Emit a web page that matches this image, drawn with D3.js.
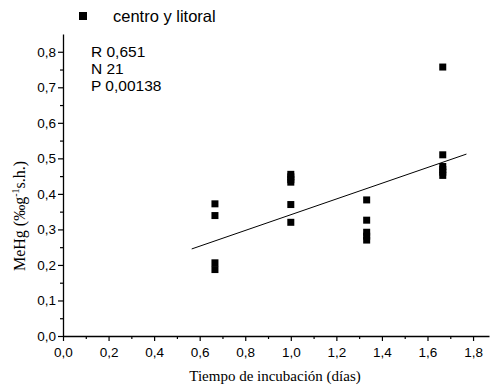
<!DOCTYPE html>
<html>
<head>
<meta charset="utf-8">
<script src="https://cdn.jsdelivr.net/npm/d3@7"></script>
<style>
  html, body { margin: 0; padding: 0; background: #fff; }
  svg { display: block; }
</style>
</head>
<body>
<svg id="chart" width="492" height="389"></svg>
<script>
// Incubation time (days) and MeHg measured for each sample
const days = [0.667, 0.667, 0.667, 0.667,
              1.0, 1.0, 1.0, 1.0, 1.0, 1.0,
              1.333, 1.333, 1.333, 1.333, 1.333,
              1.667, 1.667, 1.667, 1.667, 1.667, 1.667];
const mehg = [0.372, 0.339, 0.206, 0.187,
              0.455, 0.448, 0.440, 0.433, 0.370, 0.320,
              0.383, 0.326, 0.292, 0.281, 0.270,
              0.757, 0.510, 0.477, 0.469, 0.461, 0.452];

// Linear fit: start/end of the drawn line and its y values
const fitX = [0.565, 1.771];
const fitY = [0.245, 0.512];

const xTicks = [0, 0.2, 0.4, 0.6, 0.8, 1.0, 1.2, 1.4, 1.6, 1.8];
const yTicks = [0, 0.1, 0.2, 0.3, 0.4, 0.5, 0.6, 0.7, 0.8];
const stats = ["R 0,651", "N 21", "P 0,00138"];
const seriesName = "centro y litoral";

(function draw() {
  const svg = d3.select("#chart");
  const mLeft = 63, mRight = 489, mTop = 34, mBottom = 336;

  const x = d3.scaleLinear().domain([0, 1.87]).range([mLeft, mRight]);
  const y = d3.scaleLinear().domain([0, 0.85]).range([mBottom, mTop]);

  const fmt = d => d3.format(".1f")(d).replace(".", ",");
  const sans = "'Liberation Sans', Arial, sans-serif";
  const serif = "'Liberation Serif', 'Times New Roman', serif";

  // Minor ticks
  const xMinor = d3.range(0.1, 1.87, 0.2);
  const yMinor = d3.range(0.05, 0.85, 0.1);

  const xAxis = svg.append("g")
    .attr("transform", `translate(0,${mBottom})`)
    .call(d3.axisBottom(x).tickValues(xTicks).tickFormat(fmt).tickSize(5).tickSizeOuter(0));
  svg.append("g")
    .attr("transform", `translate(0,${mBottom})`)
    .call(d3.axisBottom(x).tickValues(xMinor).tickFormat("").tickSize(3).tickSizeOuter(0))
    .call(g => g.select(".domain").remove());

  const yAxis = svg.append("g")
    .attr("transform", `translate(${mLeft},0)`)
    .call(d3.axisLeft(y).tickValues(yTicks).tickFormat(fmt).tickSize(5).tickSizeOuter(0));
  svg.append("g")
    .attr("transform", `translate(${mLeft},0)`)
    .call(d3.axisLeft(y).tickValues(yMinor).tickFormat("").tickSize(3).tickSizeOuter(0))
    .call(g => g.select(".domain").remove());

  svg.selectAll(".domain").attr("stroke", "#000").attr("stroke-width", 1.3);
  svg.selectAll(".tick line").attr("stroke", "#000").attr("stroke-width", 1.2);
  svg.selectAll(".tick text")
    .attr("font-family", sans).attr("font-size", 13.5).attr("fill", "#000");
  xAxis.selectAll(".tick text").attr("dy", "0.95em");
  yAxis.selectAll(".tick text").attr("x", -7);

  // Fitted line
  svg.append("line")
    .attr("x1", x(fitX[0])).attr("y1", y(fitY[0]))
    .attr("x2", x(fitX[1])).attr("y2", y(fitY[1]))
    .attr("stroke", "#000").attr("stroke-width", 1);

  // Sample markers
  const sq = 7;
  svg.append("g").selectAll("rect")
    .data(days.map((d, i) => [d, mehg[i]]))
    .join("rect")
    .attr("x", d => x(d[0]) - sq / 2)
    .attr("y", d => y(d[1]) - sq / 2)
    .attr("width", sq).attr("height", sq)
    .attr("fill", "#000");

  // Legend
  svg.append("rect").attr("x", 79).attr("y", 12).attr("width", 8).attr("height", 8).attr("fill", "#000");
  svg.append("text").attr("x", 113).attr("y", 22)
    .attr("font-family", sans).attr("font-size", 16.5).attr("fill", "#000")
    .text(seriesName);

  // Statistics block
  svg.append("g").selectAll("text").data(stats).join("text")
    .attr("x", 91).attr("y", (d, i) => 57 + i * 17)
    .attr("font-family", sans).attr("font-size", 15.5).attr("fill", "#000")
    .text(d => d);

  // Axis titles
  svg.append("text")
    .attr("x", (mLeft + mRight) / 2 - 1).attr("y", 381)
    .attr("text-anchor", "middle")
    .attr("font-family", serif).attr("font-size", 15).attr("fill", "#000")
    .text("Tiempo de incubación (días)");

  const yt = svg.append("text")
    .attr("transform", "translate(25,216) rotate(-90)")
    .attr("text-anchor", "middle")
    .attr("font-family", serif).attr("font-size", 16).attr("fill", "#000");
  yt.append("tspan").text("MeHg (‰g");
  yt.append("tspan").attr("dy", -6).attr("font-size", 10).text("-1");
  yt.append("tspan").attr("dy", 6).text("s.h.)");
})();
</script>
</body>
</html>
